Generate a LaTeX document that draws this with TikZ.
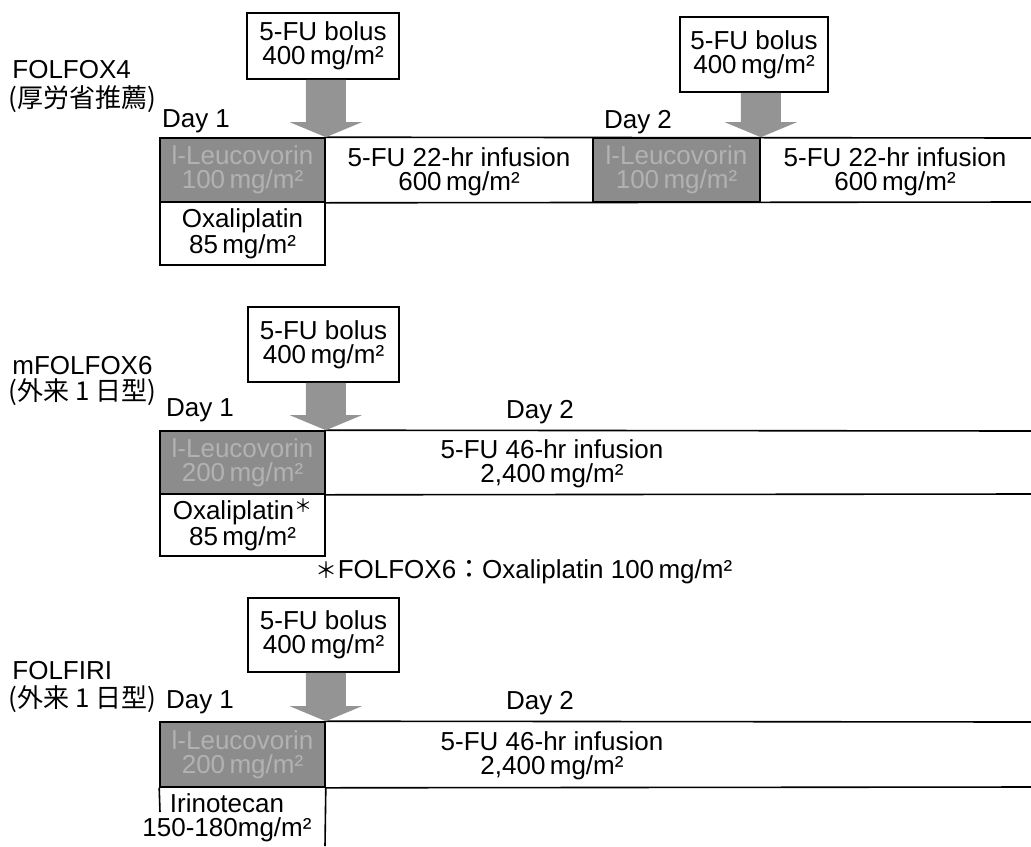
\documentclass[tikz,border=0pt]{standalone}
\usepackage{fontspec}
\setmainfont{Liberation Sans}
\newfontfamily\cjk{Noto Sans CJK JP}
\usetikzlibrary{calc}
\newcommand\myblockarrow[2]{%
  \fill[arr] ($(#2 |- #1.south)+(-20,0)$) -- ($(#2 |- #1.south)+(20,0)$)
    -- ($(#2)+(20,-15)$) -- ($(#2)+(36,-15)$) -- (#2)
    -- ($(#2)+(-36,-15)$) -- ($(#2)+(-20,-15)$) -- cycle;}
\newcommand\smallast{\raisebox{0.45ex}{\cjk\fontsize{9}{9}\selectfont ＊}}
\begin{document}
\begin{tikzpicture}[x=0.5pt,y=-0.5pt,
  every node/.style={font=\fontsize{13}{12}\selectfont, align=center, inner sep=0pt},
  lbl/.style={anchor=base west},
  box/.style={draw, line width=0.8pt, fill=white},
  dark/.style={draw, line width=0.8pt, fill=black!45, text=black!30},
  arr/.style={fill=black!42},
  ln/.style={line width=0.8pt}]
\useasboundingbox (0,0) rectangle (1031,846);

% ---------- Row 1: FOLFOX4 ----------
\node[lbl] (lab1) at (12,78) {FOLFOX4};
\node[lbl] (lab1b) at (8,107) {\cjk (厚労省推薦)};
\node[box, minimum width=76pt, minimum height=33pt] (b1) at (323,46) {5-FU bolus\\400\,mg/m²};
\node (d1a) at (196,121) {Day 1};
\node[dark, minimum width=82.5pt, minimum height=32pt] (lv1) at (242.5,170) {l-Leucovorin\\100\,mg/m²};
\node[box, minimum width=82.5pt, minimum height=31.5pt] (ox1) at (242.5,233.5) {Oxaliplatin\\85\,mg/m²};
\coordinate (r1t) at (1031,138);
\coordinate (r1b) at (1031,202);
\draw[ln] (lv1.north east) -- (r1t);
\draw[ln] (lv1.south east) -- (r1b);
\node (inf1a) at (459,172) {5-FU 22-hr infusion\\600\,mg/m²};
\node (d2a) at (638,122) {Day 2};
\node[dark, minimum width=83.5pt, minimum height=32pt] (lv2) at (676.5,170) {l-Leucovorin\\100\,mg/m²};
\node[box, minimum width=74pt, minimum height=37.5pt] (b2) at (754,54.5) {5-FU bolus\\400\,mg/m²};
\node (inf1b) at (895,172) {5-FU 22-hr infusion\\600\,mg/m²};
\myblockarrow{b1}{lv1.north east}
\myblockarrow{b2}{lv2.north east}

% ---------- Row 2: mFOLFOX6 ----------
\node[lbl] (lab2) at (12,374) {mFOLFOX6};
\node[lbl] (lab2b) at (8,400) {\cjk (外来 1 日型)};
\node[box, minimum width=75.5pt, minimum height=37.5pt] (b3) at (323.5,344.5) {5-FU bolus\\400\,mg/m²};
\node (d1b) at (200,410) {Day 1};
\node[dark, minimum width=82.5pt, minimum height=31.5pt] (lv3) at (242.5,462.5) {l-Leucovorin\\200\,mg/m²};
\node[box, minimum width=82.5pt, minimum height=31pt] (ox2) at (242.5,525) {Oxaliplatin\smallast\\85\,mg/m²};
\coordinate (r2t) at (1031,431);
\coordinate (r2b) at (1031,494);
\draw[ln] (lv3.north east) -- (r2t);
\draw[ln] (lv3.south east) -- (r2b);
\node (d2b) at (540,412) {Day 2};
\node (inf2) at (552,464) {5-FU 46-hr infusion\\2,400\,mg/m²};
\myblockarrow{b3}{lv3.north east}
\node (note) at (524,572) {{\cjk\fontsize{11}{11}\selectfont ＊}FOLFOX6{\cjk ：}Oxaliplatin 100\,mg/m²};

% ---------- Row 3: FOLFIRI ----------
\node[lbl] (lab3) at (12,679) {FOLFIRI};
\node[lbl] (lab3b) at (8,707) {\cjk (外来 1 日型)};
\node[box, minimum width=75.5pt, minimum height=37pt] (b4) at (323.5,635) {5-FU bolus\\400\,mg/m²};
\node (d1c) at (200,702) {Day 1};
\node[dark, minimum width=82.5pt, minimum height=32.5pt] (lv4) at (242.5,754.5) {l-Leucovorin\\200\,mg/m²};
\coordinate (r3t) at (1031,722);
\coordinate (r3b) at (1031,787);
\coordinate (iribl) at (160,812);
\coordinate (iribr) at (325,846);
\draw[ln] (lv4.north east) -- (r3t);
\draw[ln] (lv4.south east) -- (r3b);
\draw[ln] (lv4.south west) -- (iribl);
\draw[ln] (lv4.south east) -- (iribr);
\node (iri) at (227,818) {Irinotecan\\150-180mg/m²};
\node (d2c) at (540,703) {Day 2};
\node (inf3) at (552,756) {5-FU 46-hr infusion\\2,400\,mg/m²};
\myblockarrow{b4}{lv4.north east}
\end{tikzpicture}
\end{document}
